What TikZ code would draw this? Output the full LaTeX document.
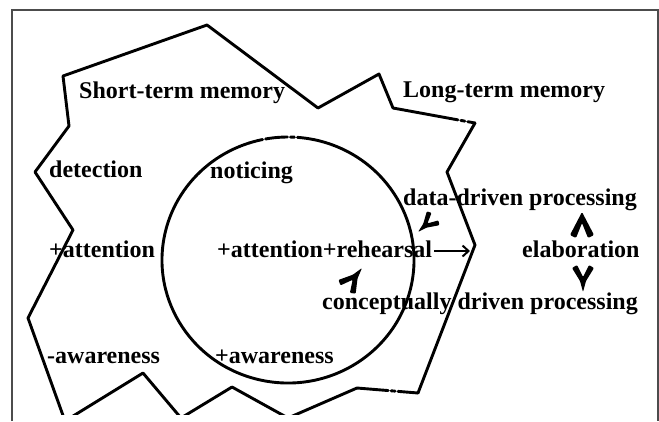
\documentclass[tikz,border=0pt]{standalone}
\usepackage{fontspec}
\setmainfont{Liberation Serif}
\usetikzlibrary{arrows.meta}
\begin{document}
\begin{tikzpicture}[x=1bp,y=-1bp,
  lbl/.style={anchor=base west, inner sep=0pt, font=\fontsize{24bp}{28bp}\selectfont\bfseries},
  ink/.style={line width=2.9bp, line join=round, line cap=round},
  frame/.style={draw=black!70, line width=1.2bp},
  inkhead/.pic={\fill[rounded corners=1.2bp] (0,0) -- (-23,12) -- (-26,6) -- (-11,0)
      -- (-26,-6) -- (-23,-12) -- cycle;},
  yhead/.pic={\fill[rounded corners=1bp] (0,0) -- (-11,3) -- (-24,11) -- (-27,6) -- (-15,0)
      -- (-27,-6) -- (-24,-11) -- (-11,-3) -- cycle;},
  thinarrow/.style={line width=2bp, -{Straight Barb[length=6bp, width=11bp, line width=2bp]}}
]
\useasboundingbox (0,0) rectangle (659,421);
\draw[frame] (12,421) -- (12,10) -- (658,10) -- (658,421);

% memory boundary (short-term / long-term)
\begin{scope}
  \clip (0,0) rectangle (659,414);
  \draw[ink] (65,421) -- (28,318) -- (73,230) -- (35,172) -- (69,126) -- (63,76)
     -- (207,25) -- (318,108) -- (379,74) -- (393,108);
  \draw[ink, dash pattern=on 66bp off 3bp on 4bp off 3bp on 40bp] (393,108) -- (475,123);
  \draw[ink] (475,123) -- (447,172) -- (475,245) -- (418,393);
  \draw[ink, dash pattern=on 20bp off 3bp on 4bp off 3bp on 40bp] (418,393) -- (357,388);
  \draw[ink] (357,388) -- (288,418) -- (232,387) -- (181,418) -- (143,373) -- (65,421);
\end{scope}

% noticing circle
\draw[ink] (288,260) ++(-78:126 and 123)
  arc[start angle=-78, end angle=252, x radius=126, y radius=123];
\draw[ink, dash pattern=on 14bp off 3bp on 22bp off 3bp on 4bp off 3bp on 30bp]
  (288,260) ++(-108:126 and 123)
  arc[start angle=-108, end angle=-78, x radius=126, y radius=123];

% labels
\node[lbl] (stm)  at (79,98)   {Short-term memory};
\node[lbl] (ltm)  at (403,97)  {Long-term memory};
\node[lbl] (det)  at (49,177)  {detection};
\node[lbl] (noti) at (210,178) {noticing};
\node[lbl] (ddp)  at (403,205) {data-driven processing};
\node[lbl] (att)  at (49,257)  {+attention};
\node[lbl] (reh)  at (217,257) {+attention+rehearsal};
\node[lbl] (elab) at (522,257) {elaboration};
\node[lbl] (cdp)  at (322,309) {conceptually driven processing};
\node[lbl] (naw)  at (47,363)  {-awareness};
\node[lbl] (paw)  at (215,363) {+awareness};

% arrow heads (elaboration -> processing, processing -> rehearsal)
\coordinate (upT) at (582,212);
\coordinate (dnT) at (583,292);
\coordinate (ddT) at (418,232);
\coordinate (cdT) at (362,268);
\pic[rotate=90]     at (upT) {inkhead};
\pic[rotate=-90]    at (dnT) {yhead};
\pic[rotate=-137.8, scale=0.85] at (ddT) {yhead};
\pic[rotate=51.5]   at (cdT) {yhead};

% rehearsal to long-term memory
\coordinate (ltmin) at (470,251);
\draw[thinarrow] (reh.base east) ++(2,-6) -- (ltmin);
\end{tikzpicture}
\end{document}
